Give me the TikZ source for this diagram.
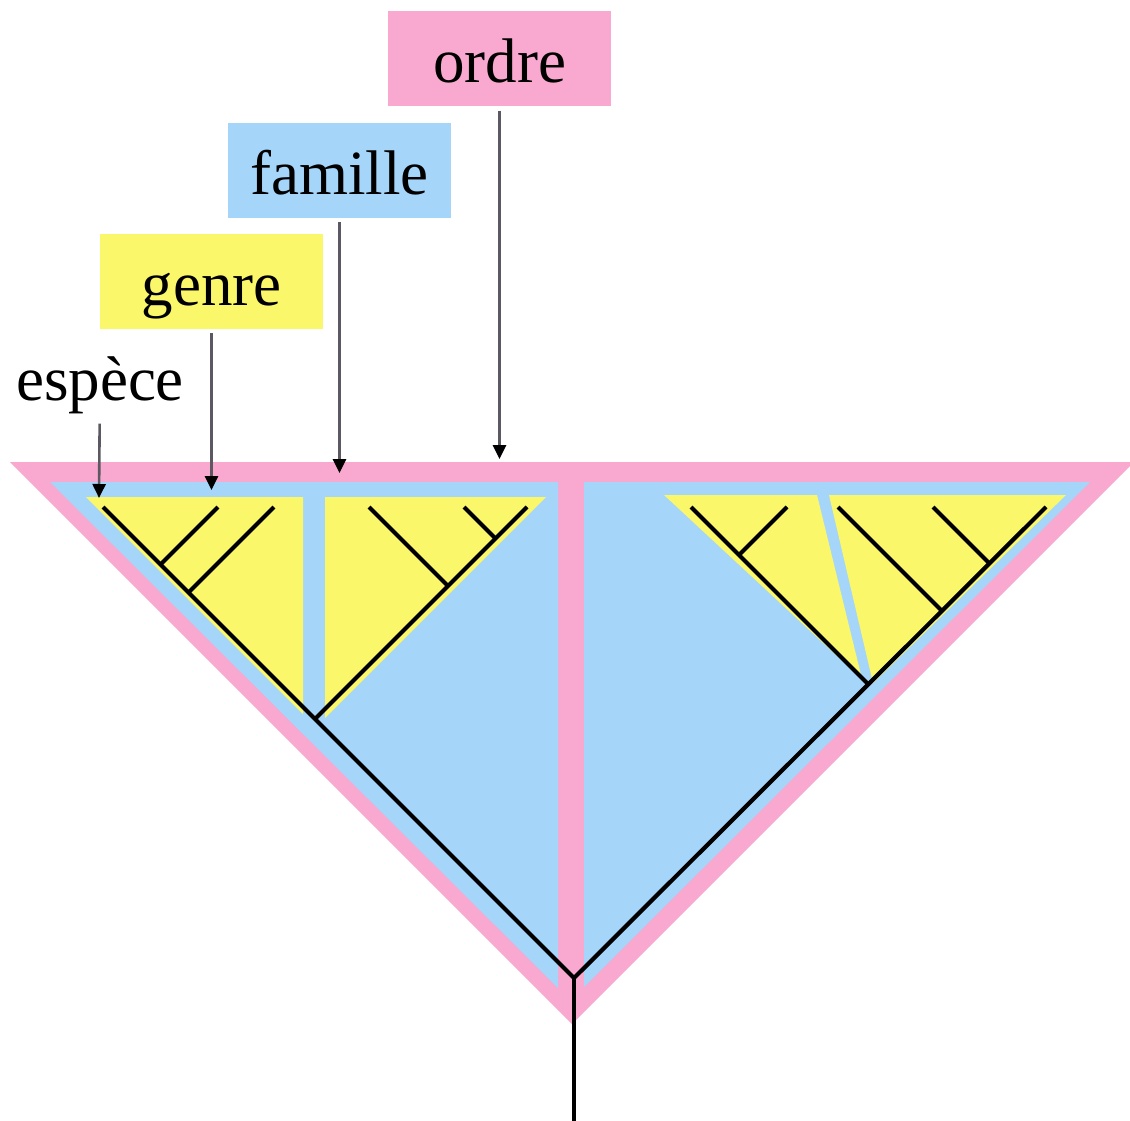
\documentclass[tikz,border=0pt]{standalone}
\usepackage{fontspec}
\setmainfont{Liberation Serif}
\usetikzlibrary{arrows.meta}
\definecolor{ordrepink}{HTML}{F9A8CF}
\definecolor{famblue}{HTML}{A6D5FA}
\definecolor{genreyellow}{HTML}{FAF76A}
\definecolor{stemgray}{HTML}{5C5862}
\tikzset{
  >={Triangle[length=14pt,width=13pt,color=black]},
  every node/.style={font=\fontsize{63}{70}\selectfont,text=black},
  rank/.style={minimum width=223pt,minimum height=95pt,inner sep=0pt,text height=50pt,text depth=2pt},
  pointer/.style={->,line width=2.6pt,draw=stemgray,shorten <=4pt},
  branch/.style={line width=4.2pt,draw=black},
  ordrezone/.style={fill=ordrepink},
  famzone/.style={fill=famblue},
  genrezone/.style={fill=genreyellow}
}

\begin{document}
\begin{tikzpicture}[x=1pt,y=-1pt]
  \useasboundingbox (0,0) rectangle (1130,1121);

  \fill[ordrezone] (10,462) -- (1134,462) -- (572,1024) -- cycle;
  \fill[famzone] (50,482) -- (558,482) -- (558,988) -- cycle;
  \fill[famzone] (584,482) -- (1090,482) -- (584,987) -- cycle;
  \fill[genrezone] (86,497) -- (303,497) -- (303,714) -- cycle;
  \fill[genrezone] (325,497) -- (546,497) -- (325,718) -- cycle;
  \fill[genrezone] (664,495) -- (817,495) -- (862,679) -- cycle;
  \fill[genrezone] (829,495) -- (1066,495) -- (873,683) -- cycle;

  \node[rank,fill=ordrepink] (ordre) at (499.5,59) {ordre};
  \node[rank,fill=famblue] (famille) at (339.5,170.5) {famille};
  \node[rank,fill=genreyellow] (genre) at (211.5,281.5) {genre};
  \node[inner sep=2pt,anchor=base] (espece) at (100,400) {espèce};

  \coordinate (ordretip) at (499.5,459);
  \coordinate (familletip) at (339.5,473);
  \coordinate (genretip) at (211.5,490);
  \coordinate (especetip) at (99,498);

  \coordinate (base) at (574,1121);
  \coordinate (root) at (574,978);
  \coordinate (famL) at (315,719);
  \coordinate (famR) at (868.5,684.5);
  \coordinate (sp1) at (103,507);
  \coordinate (n1) at (160.5,564.5);
  \coordinate (sp2) at (218,507);
  \coordinate (n2) at (188.5,592.5);
  \coordinate (sp3) at (274,507);
  \coordinate (sp4) at (369,507);
  \coordinate (n4) at (448,586);
  \coordinate (sp5) at (464,507);
  \coordinate (n5) at (495.5,538.5);
  \coordinate (sp6) at (527,507);
  \coordinate (sp7) at (691,507);
  \coordinate (n7) at (739,555);
  \coordinate (sp8) at (787,507);
  \coordinate (sp9) at (838,507);
  \coordinate (n9) at (942,611);
  \coordinate (sp10) at (933,507);
  \coordinate (n10) at (989.5,563.5);
  \coordinate (sp11) at (1046,507);

  \draw[branch] (base) -- (root);
  \draw[branch] (root) -- (sp1);
  \draw[branch] (root) -- (sp11);
  \draw[branch] (n1) -- (sp2);
  \draw[branch] (n2) -- (sp3);
  \draw[branch] (famL) -- (sp6);
  \draw[branch] (n4) -- (sp4);
  \draw[branch] (n5) -- (sp5);
  \draw[branch] (famR) -- (sp7);
  \draw[branch] (n7) -- (sp8);
  \draw[branch] (n9) -- (sp9);
  \draw[branch] (n10) -- (sp10);

  \draw[pointer] (ordre) -- (ordretip);
  \draw[pointer] (famille) -- (familletip);
  \draw[pointer] (genre) -- (genretip);
  \draw[pointer,shorten <=8pt] (espece) -- (especetip);
\end{tikzpicture}
\end{document}
